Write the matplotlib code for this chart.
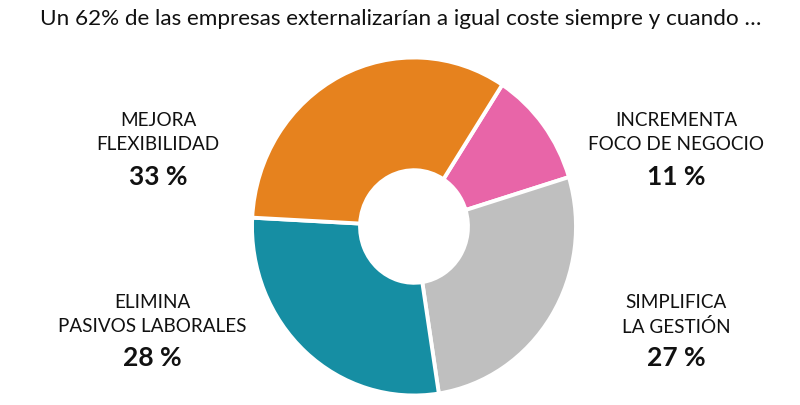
import matplotlib
matplotlib.use("Agg")
import matplotlib.pyplot as plt

plt.rcParams['font.family'] = ['Lato', 'DejaVu Sans']

title = "Un 62% de las empresas externalizarían a igual coste siempre y cuando …"
categories = ["INCREMENTA\nFOCO DE NEGOCIO", "SIMPLIFICA\nLA GESTIÓN",
              "ELIMINA\nPASIVOS LABORALES", "MEJORA\nFLEXIBILIDAD"]
values = [11, 27, 28, 33]
pct_labels = ["11 %", "27 %", "28 %", "33 %"]
colors = ["#E865A8", "#BFBFBF", "#168EA3", "#E6821E"]

W, H = 800, 405
fig = plt.figure(figsize=(8, 4.05), dpi=100)
fig.patch.set_facecolor("white")

cx, cy, rx, ry = 414, 226.5, 162, 169
ax = fig.add_axes([(cx - rx) / W, (H - cy - ry) / H, 2 * rx / W, 2 * ry / H])
ax.pie(values, colors=colors, startangle=57, counterclock=False,
       wedgeprops=dict(width=0.667, edgecolor="white", linewidth=2.8))
ax.set_aspect('auto')
ax.set_xlim(-1, 1)
ax.set_ylim(-1, 1)
ax.axis('off')

fig.text(401 / W, 1 - 19 / H, title, ha='center', va='center', fontsize=16.2, color='#111111')

label_pos = [(676, 132, 177), (676, 315, 358), (152, 315, 358), (158, 133, 177)]
for cat, pct, (x, y1, y2) in zip(categories, pct_labels, label_pos):
    fig.text(x / W, 1 - y1 / H, cat, ha='center', va='center', fontsize=13.6,
             linespacing=1.5, color='#111111')
    fig.text(x / W, 1 - y2 / H, pct, ha='center', va='center', fontsize=19,
             fontweight='bold', color='#111111')

fig.savefig("out.png", dpi=100, facecolor="white")
